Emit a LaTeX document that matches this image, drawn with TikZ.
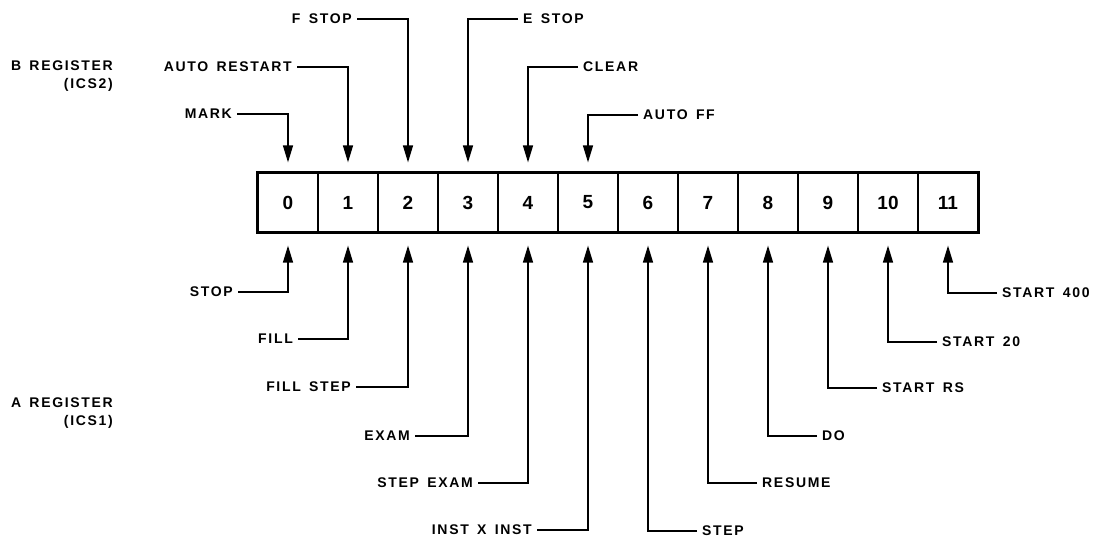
\documentclass[tikz,border=0pt]{standalone}
\usepackage{fontspec}
\setmainfont{Liberation Sans}
\newfontfamily\lblfont[LetterSpace=12,WordSpace=1.5]{Liberation Sans}
\usetikzlibrary{arrows.meta}
\begin{document}
\begin{tikzpicture}[x=1pt,y=-1pt,
 lbl/.style={font=\lblfont\bfseries\fontsize{14}{18}\selectfont, inner xsep=5pt, inner ysep=0pt},
 cell/.style={draw, line width=1.2pt, minimum width=60pt, minimum height=59pt, inner sep=0pt, font=\bfseries\fontsize{19}{22}\selectfont},
 conn/.style={line width=1.4pt, -{Triangle[length=17pt,width=10pt]}},
 tconn/.style={conn, shorten >=10pt},
 bconn/.style={conn, shorten >=13pt}]
\useasboundingbox (0,0) rectangle (1111,537);
\foreach \i in {0,...,11} \node[cell] (c\i) at ({288+60*\i},202.5) {\i};
\draw[line width=2.2pt] (c0.north west) rectangle (c11.south east);
% register labels
\node[lbl, anchor=east, align=right] (breg) at (118,76) {B REGISTER\\(ICS2)};
\node[lbl, anchor=east, align=right] (areg) at (118,413) {A REGISTER\\(ICS1)};
% top labels
\node[lbl, anchor=east] (mark) at (237,114) {MARK};
\node[lbl, anchor=east] (autorestart) at (297,67) {AUTO RESTART};
\node[lbl, anchor=east] (fstop) at (357,19) {F STOP};
\node[lbl, anchor=west] (estop) at (518,19) {E STOP};
\node[lbl, anchor=west] (clear) at (578,67) {CLEAR};
\node[lbl, anchor=west] (autoff) at (638,115) {AUTO FF};
\draw[tconn] (mark.east) -| (c0.north);
\draw[tconn] (autorestart.east) -| (c1.north);
\draw[tconn] (fstop.east) -| (c2.north);
\draw[tconn] (estop.west) -| (c3.north);
\draw[tconn] (clear.west) -| (c4.north);
\draw[tconn] (autoff.west) -| (c5.north);
% bottom labels
\node[lbl, anchor=east] (stop) at (238,292) {STOP};
\node[lbl, anchor=east] (fill) at (298,339) {FILL};
\node[lbl, anchor=east] (fillstep) at (356,387) {FILL STEP};
\node[lbl, anchor=east] (exam) at (415,436) {EXAM};
\node[lbl, anchor=east] (stepexam) at (478,483) {STEP EXAM};
\node[lbl, anchor=east] (instxinst) at (537,530) {INST X INST};
\node[lbl, anchor=west] (step) at (697,531) {STEP};
\node[lbl, anchor=west] (resume) at (757,483) {RESUME};
\node[lbl, anchor=west] (do) at (817,436) {DO};
\node[lbl, anchor=west] (startrs) at (877,388) {START RS};
\node[lbl, anchor=west] (start20) at (937,342) {START 20};
\node[lbl, anchor=west] (start400) at (997,293) {START 400};
\draw[bconn] (stop.east) -| (c0.south);
\draw[bconn] (fill.east) -| (c1.south);
\draw[bconn] (fillstep.east) -| (c2.south);
\draw[bconn] (exam.east) -| (c3.south);
\draw[bconn] (stepexam.east) -| (c4.south);
\draw[bconn] (instxinst.east) -| (c5.south);
\draw[bconn] (step.west) -| (c6.south);
\draw[bconn] (resume.west) -| (c7.south);
\draw[bconn] (do.west) -| (c8.south);
\draw[bconn] (startrs.west) -| (c9.south);
\draw[bconn] (start20.west) -| (c10.south);
\draw[bconn] (start400.west) -| (c11.south);
\end{tikzpicture}
\end{document}
